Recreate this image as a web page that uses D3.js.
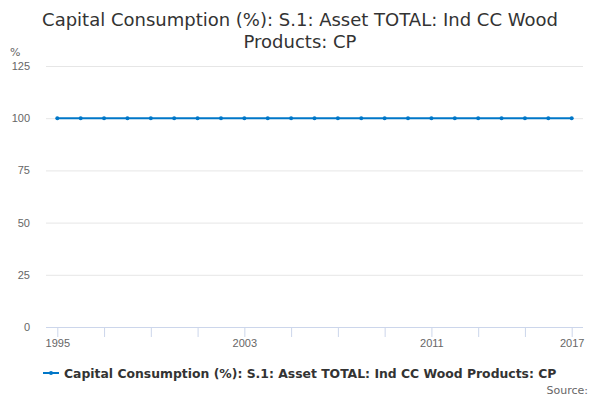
<!DOCTYPE html>
<html>
<head>
<meta charset="utf-8">
<script src="https://cdn.jsdelivr.net/npm/d3@7"></script>
<style>
  body { margin: 0; background: #fff; }
  svg { font-family: "DejaVu Sans", sans-serif; }
</style>
</head>
<body>
<div id="chart"></div>
<script>
// Data
const years = d3.range(1995, 2018);
const values = [100, 100, 100, 100, 100, 100, 100, 100, 100, 100, 100, 100,
                100, 100, 100, 100, 100, 100, 100, 100, 100, 100, 100];
const yTicks = [0, 25, 50, 75, 100, 125];
const xTicks = [1995, 1997, 1999, 2001, 2003, 2005, 2007, 2009, 2011, 2013, 2015, 2017];
const xLabels = [1995, 2003, 2011, 2017];
const seriesName = "Capital Consumption (%): S.1: Asset TOTAL: Ind CC Wood Products: CP";
const titleLines = ["Capital Consumption (%): S.1: Asset TOTAL: Ind CC Wood", "Products: CP"];

const W = 600, H = 400;
const plot = { left: 46, right: 583, top: 66, bottom: 327 };

const svg = d3.select("#chart")
    .append("svg")
    .attr("width", W)
    .attr("height", H);

// Title
svg.append("text")
    .attr("x", 300)
    .attr("y", 26)
    .attr("text-anchor", "middle")
    .attr("fill", "#333")
    .style("font-size", "18px")
    .selectAll("tspan")
    .data(titleLines)
    .enter()
    .append("tspan")
    .attr("x", 300)
    .attr("dy", (d, i) => i === 0 ? 0 : 22)
    .text(d => d);

// Scales
const x = d3.scaleLinear()
    .domain([1995, 2017])
    .range([57.3, 571.7]);

const y = d3.scaleLinear()
    .domain([0, 125])
    .range([plot.bottom, plot.top]);

// Gridlines + y labels
const yAxis = svg.append("g")
    .attr("transform", `translate(${plot.left},0)`)
    .call(d3.axisLeft(y).tickValues(yTicks).tickSize(-(plot.right - plot.left)).tickPadding(16))
    .call(g => g.select(".domain").remove());

yAxis.selectAll(".tick line")
    .attr("stroke", d => d === 0 ? "none" : "#e6e6e6");
yAxis.selectAll(".tick text")
    .attr("fill", "#666")
    .style("font-size", "11px");

// Unit label
svg.append("text")
    .attr("x", 10)
    .attr("y", 56)
    .attr("fill", "#666")
    .style("font-size", "11px")
    .text("%");

// X axis
const xAxis = svg.append("g")
    .attr("transform", `translate(0,${plot.bottom})`)
    .call(d3.axisBottom(x)
        .tickValues(xTicks)
        .tickSize(10)
        .tickPadding(2)
        .tickFormat(d => xLabels.includes(d) ? d : ""));

xAxis.select(".domain")
    .attr("d", `M${plot.left},0.5H${plot.right}`)
    .attr("stroke", "#ccd6eb");
xAxis.selectAll(".tick line").attr("stroke", "#ccd6eb");
xAxis.selectAll(".tick text")
    .attr("fill", "#666")
    .style("font-size", "11px");

// Line
const data = years.map((yr, i) => ({ year: yr, value: values[i] }));
const line = d3.line()
    .x(d => x(d.year))
    .y(d => y(d.value));

svg.append("path")
    .datum(data)
    .attr("fill", "none")
    .attr("stroke", "#0077c8")
    .attr("stroke-width", 2)
    .attr("d", line);

svg.selectAll("circle.pt")
    .data(data)
    .enter()
    .append("circle")
    .attr("class", "pt")
    .attr("cx", d => x(d.year))
    .attr("cy", d => y(d.value))
    .attr("r", 2)
    .attr("fill", "#0077c8");

// Legend
const legend = svg.append("g").attr("transform", "translate(43,373)");
legend.append("line")
    .attr("x1", 0).attr("x2", 16)
    .attr("y1", 0).attr("y2", 0)
    .attr("stroke", "#0077c8")
    .attr("stroke-width", 2);
legend.append("circle")
    .attr("cx", 8).attr("cy", 0).attr("r", 2)
    .attr("fill", "#0077c8");
legend.append("text")
    .attr("x", 21)
    .attr("y", 5)
    .attr("fill", "#333")
    .style("font-size", "12.4px")
    .style("font-weight", "bold")
    .text(seriesName);

// Source
svg.append("text")
    .attr("x", 588)
    .attr("y", 394)
    .attr("text-anchor", "end")
    .attr("fill", "#666")
    .style("font-size", "11px")
    .text("Source:");
</script>
</body>
</html>
